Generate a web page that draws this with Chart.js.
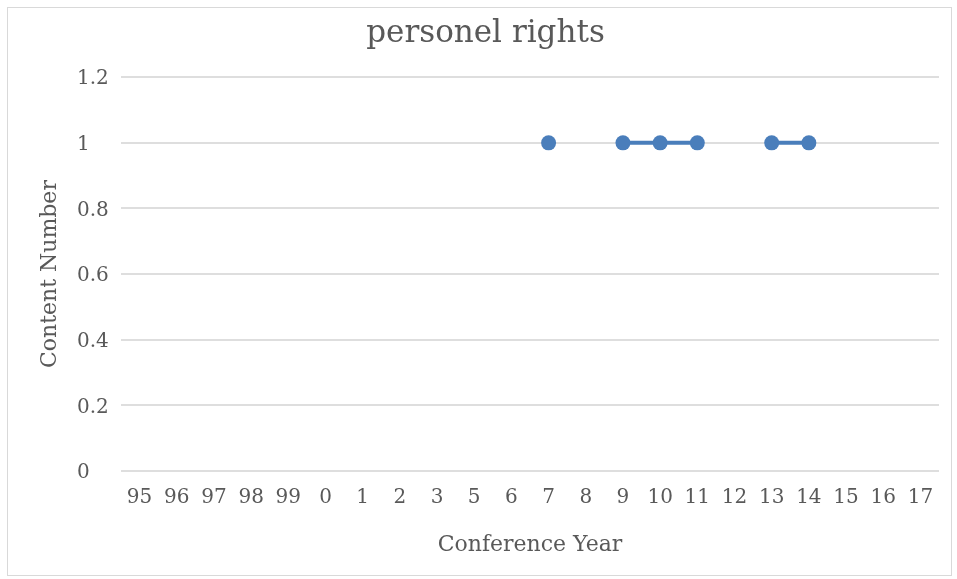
<!DOCTYPE html>
<html>
<head>
<meta charset="utf-8">
<script src="https://cdn.jsdelivr.net/npm/chart.js@4/dist/chart.umd.min.js"></script>
<style>
  html, body { margin: 0; padding: 0; background: #fff; }
  #wrap { position: relative; width: 957px; height: 579px; }
  #frame {
    position: absolute; left: 7px; top: 7px; right: 5px; bottom: 3px;
    border: 1px solid #d9d9d9;
  }
  canvas { position: absolute; left: 0; top: 0; }
</style>
</head>
<body>
<div id="wrap">
  <div id="frame"></div>
  <canvas id="chart" width="957" height="579"></canvas>
</div>
<script>
// Chart data
const years = ['95', '96', '97', '98', '99', '0', '1', '2', '3', '5', '6',
               '7', '8', '9', '10', '11', '12', '13', '14', '15', '16', '17'];
const contentNumber = [null, null, null, null, null, null, null, null, null, null, null,
                       1, null, 1, 1, 1, null, 1, 1, null, null, null];

const textColor = '#595959';
const seriesColor = '#4a7ebb';
const fontFamily = "'DejaVu Serif', 'Liberation Serif', serif";

const ctx = document.getElementById('chart').getContext('2d');

new Chart(ctx, {
  type: 'line',
  data: {
    labels: years,
    datasets: [{
      label: 'personel rights',
      data: contentNumber,
      borderColor: seriesColor,
      backgroundColor: seriesColor,
      pointBackgroundColor: seriesColor,
      pointBorderColor: seriesColor,
      borderWidth: 4,
      pointRadius: 7.5,
      pointBorderWidth: 0,
      spanGaps: false,
      tension: 0
    }]
  },
  options: {
    responsive: false,
    animation: false,
    layout: { padding: { left: 32, right: 18, top: 0, bottom: 0 } },
    plugins: {
      legend: { display: false },
      tooltip: { enabled: false },
      title: {
        display: true,
        text: 'personel rights',
        color: textColor,
        font: { family: fontFamily, size: 31, weight: 'normal' },
        padding: { top: 15, bottom: 25 }
      }
    },
    scales: {
      x: {
        offset: true,
        grid: { display: false, drawTicks: false },
        border: { display: false },
        ticks: {
          color: textColor,
          font: { family: fontFamily, size: 20 },
          padding: 15,
          maxRotation: 0,
          autoSkip: false
        },
        title: {
          display: true,
          text: 'Conference Year',
          color: textColor,
          font: { family: fontFamily, size: 22 },
          padding: { top: 0, bottom: 21 }
        },
        afterFit: (scale) => { scale.height = 108; }
      },
      y: {
        min: 0,
        max: 1.2,
        grid: { color: '#dedede', lineWidth: 2, drawTicks: false },
        border: { display: false },
        ticks: {
          stepSize: 0.2,
          color: textColor,
          font: { family: fontFamily, size: 20 },
          // left-aligned labels starting at x = 77
          mirror: true,
          padding: -44,
          labelOffset: 2,
          callback: (value) => String(+value.toFixed(1))
        },
        title: {
          display: true,
          text: 'Content Number',
          color: textColor,
          font: { family: fontFamily, size: 22 },
          padding: { top: 5, bottom: 0 }
        },
        afterFit: (scale) => { scale.width = 89; }
      }
    }
  }
});
</script>
</body>
</html>
